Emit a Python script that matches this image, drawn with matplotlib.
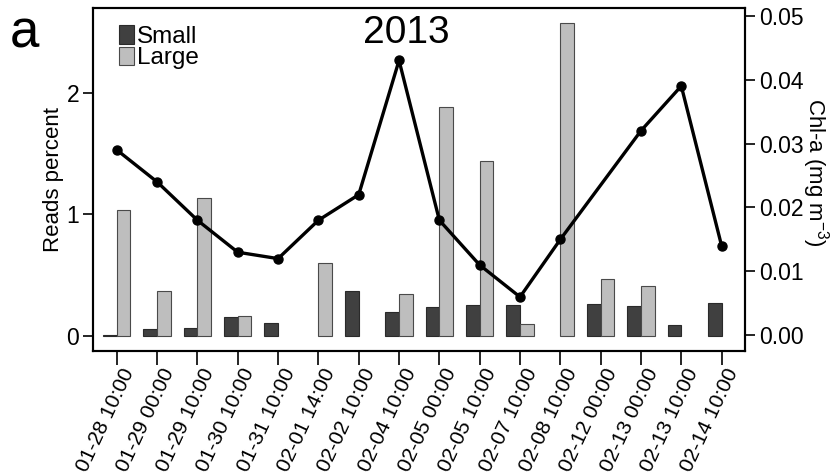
import matplotlib
matplotlib.use('Agg')
import matplotlib.pyplot as plt
import matplotlib.transforms as mtransforms
from matplotlib.patches import Patch
import numpy as np

plt.rcParams['font.family'] = ['Liberation Sans', 'DejaVu Sans']
plt.rcParams['mathtext.default'] = 'regular'

labels = ['01-28 10:00', '01-29 00:00', '01-29 10:00', '01-30 10:00', '01-31 10:00',
          '02-01 14:00', '02-02 10:00', '02-04 10:00', '02-05 00:00', '02-05 10:00',
          '02-07 10:00', '02-08 10:00', '02-12 00:00', '02-13 00:00', '02-13 10:00',
          '02-14 10:00']
small = [0.005, 0.055, 0.063, 0.159, 0.105, 0.0, 0.373, 0.195, 0.242, 0.253,
         0.253, 0.0, 0.261, 0.247, 0.091, 0.275]
large = [1.036, 0.373, 1.135, 0.167, 0.0, 0.599, 0.0, 0.344, 1.885, 1.443,
         0.096, 2.578, 0.467, 0.412, 0.0, 0.0]
chla = [0.029, 0.024, 0.018, 0.013, 0.012, 0.018, 0.022, 0.043, 0.018, 0.011,
        0.006, 0.015, np.nan, 0.032, 0.039, 0.014]

fig = plt.figure(figsize=(8.3, 4.76), dpi=100)
ax = fig.add_axes([93/830, 1-351/476, (745-93)/830, (351-8)/476])

x = np.arange(len(labels))
s = np.array(small); l = np.array(large); c = np.array(chla)
w = 0.34
ms_ = s > 0
ml_ = l > 0
ax.bar(x[ms_] - w/2, s[ms_], w, color='#404040', edgecolor='#2a2a2a', lw=0.8, zorder=2)
ax.bar(x[ml_] + w/2, l[ml_], w, color='#bebebe', edgecolor='#4a4a4a', lw=0.8, zorder=2)
ax.set_xlim(-0.59, 15.58)
ax.set_ylim(-0.124, 2.70)
ax.set_yticks([0, 1, 2])
ax.set_yticklabels(['0', '1', '2'], fontsize=16.5)
ax.tick_params(axis='x', length=10, width=1.2, pad=3)
ax.tick_params(axis='y', length=7, width=1.2, pad=3)
ax.set_ylabel('Reads percent', fontsize=16, labelpad=2)

ax2 = ax.twinx()
m = ~np.isnan(c)
ax2.plot(x[m], c[m], color='black', lw=2.4, marker='o', ms=6.5, zorder=3)
ax2.set_ylim(-0.00245, 0.0512)
ax2.set_yticks([0, 0.01, 0.02, 0.03, 0.04, 0.05])
ax2.set_yticklabels(['0.00', '0.01', '0.02', '0.03', '0.04', '0.05'], fontsize=16.5)
ax2.tick_params(axis='y', length=7, width=1.2, pad=3)
ax2.set_ylabel('Chl-a (mg m$^{-3}$)', fontsize=16, rotation=270, va='center', ha='center')
ax2.yaxis.set_label_coords((815-93)/652, 0.52)

ax.set_xticks(x)
ax.set_xticklabels(labels, rotation=65, ha='right', va='center', rotation_mode='anchor', fontsize=15)
offset = mtransforms.ScaledTranslation(12/100, 0, fig.dpi_scale_trans)
for t in ax.get_xticklabels():
    t.set_transform(t.get_transform() + offset)

for a in (ax, ax2):
    for sp in a.spines.values():
        sp.set_linewidth(1.5)

ax.text(406/830, 1-15/476, '2013', transform=fig.transFigure, ha='center', va='top', fontsize=28)
fig.text(10/830, 1-8/476, 'a', ha='left', va='top', fontsize=38)

handles = [Patch(facecolor='#404040', edgecolor='#2a2a2a', lw=0.8),
           Patch(facecolor='#bebebe', edgecolor='#4a4a4a', lw=0.8)]
ax.legend(handles, ['Small', 'Large'], loc='upper left', bbox_to_anchor=(0.04, 0.95),
          frameon=False, fontsize=17.5, handlelength=0.6, handleheight=0.8,
          handletextpad=0.15, labelspacing=-0.05, borderpad=0, borderaxespad=0)

fig.savefig('out.png', dpi=100)
